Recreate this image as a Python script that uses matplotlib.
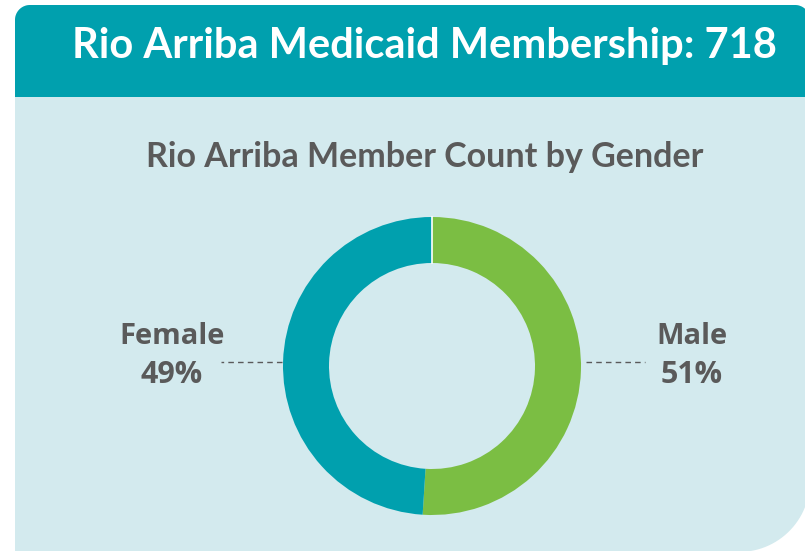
import numpy as np
import matplotlib.pyplot as plt
from matplotlib.patches import Polygon

# Data
county = 'Rio Arriba'
total_members = 718
genders = ['Male', 'Female']
shares = [51, 49]

teal = '#00A0AE'
green = '#7BBE43'
light_bg = '#D3EAEE'
grey_text = '#5A5A5A'

W, H = 805, 551
fig = plt.figure(figsize=(W / 100, H / 100), dpi=100)
ax = fig.add_axes([0, 0, 1, 1])


def rounded_box(x0, y0, x1, y1, r_tl, r_tr, r_br, r_bl, n=30):
    # corners given in image pixels (y down); returned in axes coords (y up)
    pts = []
    corners = [
        (x0 + r_tl, y0 + r_tl, r_tl, 180, 270),
        (x1 - r_tr, y0 + r_tr, r_tr, 270, 360),
        (x1 - r_br, y1 - r_br, r_br, 0, 90),
        (x0 + r_bl, y1 - r_bl, r_bl, 90, 180),
    ]
    for cx, cy, r, a0, a1 in corners:
        t = np.radians(np.linspace(a0, a1, n))
        for tt in t:
            pts.append((cx + r * np.cos(tt), H - (cy + r * np.sin(tt))))
    return pts


# background panel and header band
ax.add_patch(Polygon(rounded_box(15, 5, 810, 552, 15, 15, 71, 0),
                     closed=True, facecolor=light_bg, edgecolor='none'))
ax.add_patch(Polygon(rounded_box(15, 5, 810, 97, 15, 15, 0, 0),
                     closed=True, facecolor=teal, edgecolor='none'))

ax.text(424, H - 46, f'{county} Medicaid Membership: {total_members}',
        ha='center', va='center', color='white', fontsize=30,
        fontweight='bold', family='Lato')
ax.text(425, H - 157, f'{county} Member Count by Gender',
        ha='center', va='center', color=grey_text, fontsize=24.5,
        fontweight='bold', family='Lato')

# donut
cx, cy = 432, H - 366
ax.pie(shares, colors=[green, teal], startangle=90, counterclock=False,
       radius=149, center=(cx, cy),
       wedgeprops=dict(width=46, edgecolor='none'))
ax.plot([cx, cx], [cy + 103, cy + 149], color='white', lw=1.2)

# labels with dashed leaders
label_pos = {'Male': (692, 586, 645), 'Female': (172, 282, 221)}
for name, pct in zip(genders, shares):
    lx, d0, d1 = label_pos[name]
    ax.text(lx, H - 336, name, ha='center', va='center', color=grey_text,
            fontsize=21, fontweight='bold', family='Open Sans')
    ax.text(lx, H - 375, f'{pct}%', ha='center', va='center', color=grey_text,
            fontsize=22, fontweight='bold', family='Open Sans')
    ax.plot([d0, d1], [H - 362, H - 362], color=grey_text, lw=1,
            ls=(0, (4, 3)))

ax.set_xlim(0, W)
ax.set_ylim(0, H)
ax.set_aspect('auto')
ax.axis('off')

plt.savefig('out.png', dpi=100)
